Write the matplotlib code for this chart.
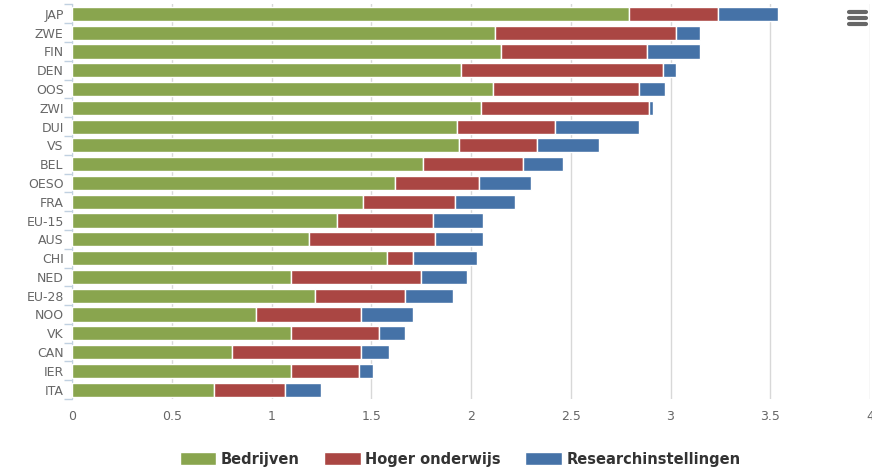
from matplotlib import pyplot as plt
from matplotlib.patches import Patch
import numpy as np

landen = ['JAP', 'ZWE', 'FIN', 'DEN', 'OOS', 'ZWI', 'DUI', 'VS', 'BEL', 'OESO', 'FRA',
          'EU-15', 'AUS', 'CHI', 'NED', 'EU-28', 'NOO', 'VK', 'CAN', 'IER', 'ITA']
bedrijven = [2.79, 2.12, 2.15, 1.95, 2.11, 2.05, 1.93, 1.94, 1.76, 1.62, 1.46,
             1.33, 1.19, 1.58, 1.10, 1.22, 0.92, 1.10, 0.80, 1.10, 0.71]
hoger_onderwijs = [0.45, 0.91, 0.73, 1.01, 0.73, 0.84, 0.49, 0.39, 0.50, 0.42, 0.46,
                   0.48, 0.63, 0.13, 0.65, 0.45, 0.53, 0.44, 0.65, 0.34, 0.36]
research = [0.30, 0.12, 0.27, 0.07, 0.13, 0.02, 0.42, 0.31, 0.20, 0.26, 0.30,
            0.25, 0.24, 0.32, 0.23, 0.24, 0.26, 0.13, 0.14, 0.07, 0.18]
series = ['Bedrijven', 'Hoger onderwijs', 'Researchinstellingen']
kleuren = ['#89A54E', '#AA4643', '#4572A7']
x_ticks = [0, 0.5, 1, 1.5, 2, 2.5, 3, 3.5, 4]
x_labels = ['0', '0.5', '1', '1.5', '2', '2.5', '3', '3.5', '4']

fig = plt.figure(figsize=(8.72, 4.73), dpi=100)
ax = fig.add_axes([72 / 872, 1 - 399 / 473, 798 / 872, 394.5 / 473])

y = np.arange(len(landen))
left = np.zeros(len(landen))
for vals, kleur in zip([bedrijven, hoger_onderwijs, research], kleuren):
    ax.barh(y, vals, left=left, height=0.75, color=kleur, edgecolor='white',
            linewidth=1, zorder=3)
    left += np.array(vals)

ax.set_xlim(0, 4)
ax.set_ylim(len(landen) - 0.5, -0.5)
ax.set_xticks(x_ticks)
ax.set_xticklabels(x_labels)
ax.set_yticks(y)
ax.set_yticklabels(landen)
ax.set_yticks(np.arange(len(landen) + 1) - 0.5, minor=True)
ax.grid(axis='x', color='#D8D8D8', linewidth=1, zorder=0)

for s in ['top', 'right', 'bottom']:
    ax.spines[s].set_visible(False)
ax.spines['left'].set_color('#C0D0E0')
ax.tick_params(axis='x', length=0, labelsize=9, labelcolor='#666666', pad=8)
ax.tick_params(axis='y', which='major', length=0, labelsize=9, labelcolor='#666666', pad=6)
ax.tick_params(axis='y', which='minor', length=6, color='#C0D0E0', width=1)

handles = [Patch(facecolor=k, edgecolor='white', label=s) for s, k in zip(series, kleuren)]
leg = fig.legend(handles=handles, loc='center', bbox_to_anchor=(460 / 872, 1 - 459 / 473),
                 ncol=3, frameon=False, fontsize=10.5, handlelength=2.5, handleheight=1.0,
                 columnspacing=1.7, handletextpad=0.3)
for t in leg.get_texts():
    t.set_color('#333333')
    t.set_fontweight('bold')

# menu knop rechtsboven
for yy in [12, 18, 24]:
    fig.add_artist(plt.Line2D([849 / 872, 866 / 872], [1 - yy / 473] * 2,
                              color='#666666', linewidth=3, solid_capstyle='round'))

plt.savefig('out.png', dpi=100)
